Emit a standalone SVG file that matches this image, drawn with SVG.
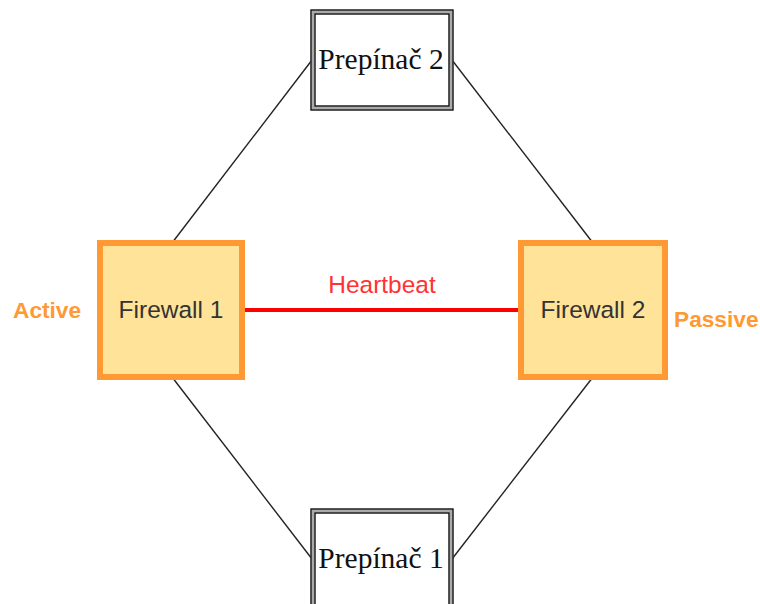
<svg xmlns="http://www.w3.org/2000/svg" width="760" height="604" viewBox="0 0 760 604">
  <style>
    .fw rect { fill: #FFE399; stroke: #FF9933; stroke-width: 6; }
    .fw text { font-family: "Liberation Sans", Arial, sans-serif; font-size: 24.5px; fill: #333333; text-anchor: middle; }
    .sw .outer { fill: #ffffff; stroke: #aaaaaa; stroke-width: 5; }
    .sw .line { fill: none; stroke: #111111; stroke-width: 1.3; }
    .sw text { font-family: "Liberation Serif", "Times New Roman", serif; font-size: 29.5px; fill: #111111; text-anchor: middle; }
    .state { font-family: "Liberation Sans", Arial, sans-serif; font-size: 22.7px; font-weight: bold; fill: #FF9933; }
    .link { stroke: #222222; stroke-width: 1.4; fill: none; }
    .hb { stroke: #FF0000; stroke-width: 4; fill: none; }
    .hb-label { font-family: "Liberation Sans", Arial, sans-serif; font-size: 24.5px; fill: #FF3333; text-anchor: middle; }
  </style>

  <!-- connectors -->
  <g id="connectors">
    <line class="link" x1="172" y1="243" x2="312" y2="60"/>
    <line class="link" x1="452" y1="60" x2="593" y2="243"/>
    <line class="link" x1="172" y1="377" x2="312" y2="559"/>
    <line class="link" x1="452" y1="559" x2="593" y2="377"/>
    <line class="hb" x1="243" y1="310" x2="521" y2="310"/>
    <text class="hb-label" x="382" y="293">Heartbeat</text>
  </g>

  <!-- switch 2 (top) -->
  <g id="prepinac2" class="sw">
    <rect class="outer" x="313" y="12" width="138" height="96"/>
    <rect class="line" x="311" y="10" width="142" height="100"/>
    <rect class="line" x="315" y="14" width="134" height="92"/>
    <text x="381" y="69">Prepínač 2</text>
  </g>

  <!-- switch 1 (bottom, runs past the edge) -->
  <g id="prepinac1" class="sw">
    <rect class="outer" x="313" y="511" width="138" height="120"/>
    <rect class="line" x="311" y="509" width="142" height="124"/>
    <rect class="line" x="315" y="513" width="134" height="116"/>
    <text x="381" y="568">Prepínač 1</text>
  </g>

  <!-- firewall 1 -->
  <g id="firewall1" class="fw">
    <rect x="100" y="243" width="142" height="134"/>
    <text x="171" y="318">Firewall 1</text>
  </g>

  <!-- firewall 2 -->
  <g id="firewall2" class="fw">
    <rect x="521" y="243" width="144" height="134"/>
    <text x="593" y="318">Firewall 2</text>
  </g>

  <text id="active" class="state" x="13" y="318">Active</text>
  <text id="passive" class="state" x="674" y="327">Passive</text>
</svg>
